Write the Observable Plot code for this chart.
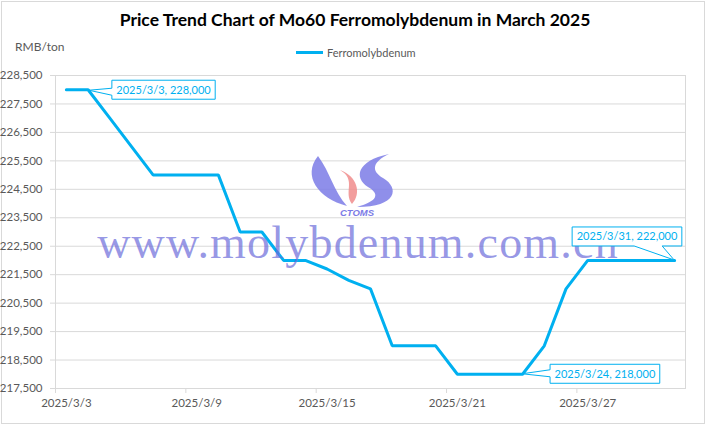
<!DOCTYPE html>
<html>
<head>
<meta charset="utf-8">
<script src="https://cdn.jsdelivr.net/npm/d3@7"></script>
<script src="https://cdn.jsdelivr.net/npm/@observablehq/plot@0.6"></script>
<style>
  html, body { margin: 0; padding: 0; background: #fff; }
  #wrap { position: relative; width: 710px; height: 429px; font-family: Lato, "Open Sans", sans-serif; overflow: hidden; }
  #border { position: absolute; left: 1px; top: 1px; width: 704px; height: 423px; border: 1px solid #d9d9d9; box-sizing: border-box; }
  #title { position: absolute; left: 0; width: 710px; top: 9px; text-align: center; font-weight: bold; font-size: 17.5px; color: #000; }
  #unit { position: absolute; left: 15px; top: 39px; font-size: 12px; color: #595959; }
  #legend { position: absolute; left: 296px; top: 46px; font-size: 11px; color: #595959; display: flex; align-items: center; }
  #legend .sw { width: 27px; height: 3px; background: #00b0f0; margin-right: 4px; }
  #chart { position: absolute; left: 0; top: 0; }
</style>
</head>
<body>
<div id="wrap">
  <div id="border"></div>
  <div id="chart"></div>
  <div id="title">Price Trend Chart of Mo60 Ferromolybdenum in March 2025</div>
  <div id="unit">RMB/ton</div>
  <div id="legend"><div class="sw"></div><span>Ferromolybdenum</span></div>
</div>
<script>
// ---- data ----
const dates = [
  "2025-03-03","2025-03-04","2025-03-05","2025-03-06","2025-03-07","2025-03-08","2025-03-09",
  "2025-03-10","2025-03-11","2025-03-12","2025-03-13","2025-03-14","2025-03-15","2025-03-16",
  "2025-03-17","2025-03-18","2025-03-19","2025-03-20","2025-03-21","2025-03-22","2025-03-23",
  "2025-03-24","2025-03-25","2025-03-26","2025-03-27","2025-03-28","2025-03-29","2025-03-30","2025-03-31"
];
const values = [
  228000,228000,227000,226000,225000,225000,225000,
  225000,223000,223000,222000,222000,221700,221300,
  221000,219000,219000,219000,218000,218000,218000,
  218000,219000,221000,222000,222000,222000,222000,222000
];
const xTickDates = ["2025-03-03","2025-03-09","2025-03-15","2025-03-21","2025-03-27"];
const xTickLabels = ["2025/3/3","2025/3/9","2025/3/15","2025/3/21","2025/3/27"];
const yTicks = [217500,218500,219500,220500,221500,222500,223500,224500,225500,226500,227500,228500];
const annDates = ["2025-03-03","2025-03-31","2025-03-24"];
const annValues = [228000,222000,218000];
const annLabels = ["2025/3/3, 228,000","2025/3/31, 222,000","2025/3/24, 218,000"];

// ---- build ----
const parse = d3.utcParse("%Y-%m-%d");
const noon = d => d3.utcHour.offset(parse(d), 12);
const data = dates.map((d, i) => ({date: noon(d), value: values[i]}));
const labelMap = new Map(xTickDates.map((d, i) => [+noon(d), xTickLabels[i]]));
const blue = "#00b0f0";
const grid = "#d9d9d9";

const plot = Plot.plot({
  width: 710, height: 429,
  marginLeft: 55, marginRight: 25, marginTop: 75, marginBottom: 41,
  style: {background: "transparent", fontFamily: "Lato, 'Open Sans', sans-serif", fontSize: "11.5px", color: "#595959"},
  x: {type: "utc", domain: [parse("2025-03-03"), parse("2025-04-01")]},
  y: {domain: [217500, 228500]},
  marks: [
    Plot.gridY(yTicks, {stroke: grid, strokeOpacity: 1}),
    Plot.frame({stroke: grid}),
    Plot.axisY(yTicks, {tickFormat: d3.format(","), tickSize: 5, tickPadding: 8, stroke: grid, strokeOpacity: 1, label: null}),
    Plot.axisX(xTickDates.map(parse), {tickFormat: () => "", tickSize: 5, stroke: grid, strokeOpacity: 1, label: null}),
    Plot.axisX(xTickDates.map(noon), {tickFormat: d => labelMap.get(+d), tickSize: 0, tickPadding: 10, label: null}),
    Plot.line(data, {x: "date", y: "value", stroke: blue, strokeWidth: 3, strokeLinejoin: "miter"})
  ]
});
document.getElementById("chart").appendChild(plot);

// ---- watermark ----
const svg = d3.select(plot);
const wm = svg.append("g").attr("pointer-events", "none");
wm.append("path").attr("fill", "#7b7be6").attr("fill-opacity", 0.85)
  .attr("d", "M318,156 C302,176 318,198 347,206 C334,192 330,172 318,156 Z");
wm.append("path").attr("fill", "#f08c8c").attr("fill-opacity", 0.85)
  .attr("d", "M340,170 C357,180 343,192 352,204 C362,193 357,176 340,170 Z");
wm.append("path").attr("fill", "#7b7be6").attr("fill-opacity", 0.85)
  .attr("d", "M389,154 C356,161 354,178 368,187 C380,194 378,201 357,207 C397,207 400,188 383,178 C371,171 372,162 389,154 Z");
wm.append("text").attr("x", 357).attr("y", 216).attr("text-anchor", "middle")
  .attr("font-family", "Liberation Sans, sans-serif").attr("font-weight", "bold").attr("font-style", "italic")
  .attr("font-size", 9.5).attr("fill", "#7b7be6").text("CTOMS");
wm.append("text").attr("x", 358).attr("y", 258).attr("text-anchor", "middle")
  .attr("font-family", "Liberation Serif, serif").attr("font-size", 46).attr("letter-spacing", 1.2)
  .attr("fill", "#6a6ada").attr("fill-opacity", 0.7).text("www.molybdenum.com.cn");

// ---- callouts ----
const xs = plot.scale("x"), ys = plot.scale("y");
const annStyle = [
  {edge: "left",   dx: 46,   dy: -9,   base: [8, 15],  tip: [23, 1]},
  {edge: "bottom", dx: -102, dy: -33,  base: [62, 90], tip: [0, 0]},
  {edge: "left",   dx: 28,   dy: -9.5, base: [5.5, 12.5], tip: [0, 0]}
];
const cg = svg.append("g");
annDates.forEach((d, i) => {
  const s = annStyle[i];
  const px = xs.apply(noon(d)), py = ys.apply(annValues[i]);
  const g = cg.append("g");
  const path = g.append("path").attr("fill", "#fff").attr("stroke", blue).attr("stroke-width", 1);
  const x0 = px + s.dx, y0 = py + s.dy;
  const t = g.append("text").attr("y", y0 + 9.5).attr("dy", "0.36em").attr("text-anchor", "start")
    .attr("font-family", "Lato, sans-serif").attr("font-size", 11).attr("fill", blue).text(annLabels[i]);
  const w = t.node().getComputedTextLength() + 9, h = 19;
  t.attr("x", x0 + 4.5);
  const x1 = x0 + w, y1 = y0 + h;
  const tx = px + s.tip[0], ty = py + s.tip[1];
  let p;
  if (s.edge === "left") {
    const a = y0 + s.base[0], b = y0 + s.base[1];
    p = `M${x0},${y0}L${x1},${y0}L${x1},${y1}L${x0},${y1}L${x0},${b}L${tx},${ty}L${x0},${a}Z`;
  } else {
    const a = x0 + s.base[0], b = x0 + s.base[1];
    p = `M${x0},${y0}L${x1},${y0}L${x1},${y1}L${b},${y1}L${tx},${ty}L${a},${y1}L${x0},${y1}Z`;
  }
  path.attr("d", p);
});
</script>
</body>
</html>
